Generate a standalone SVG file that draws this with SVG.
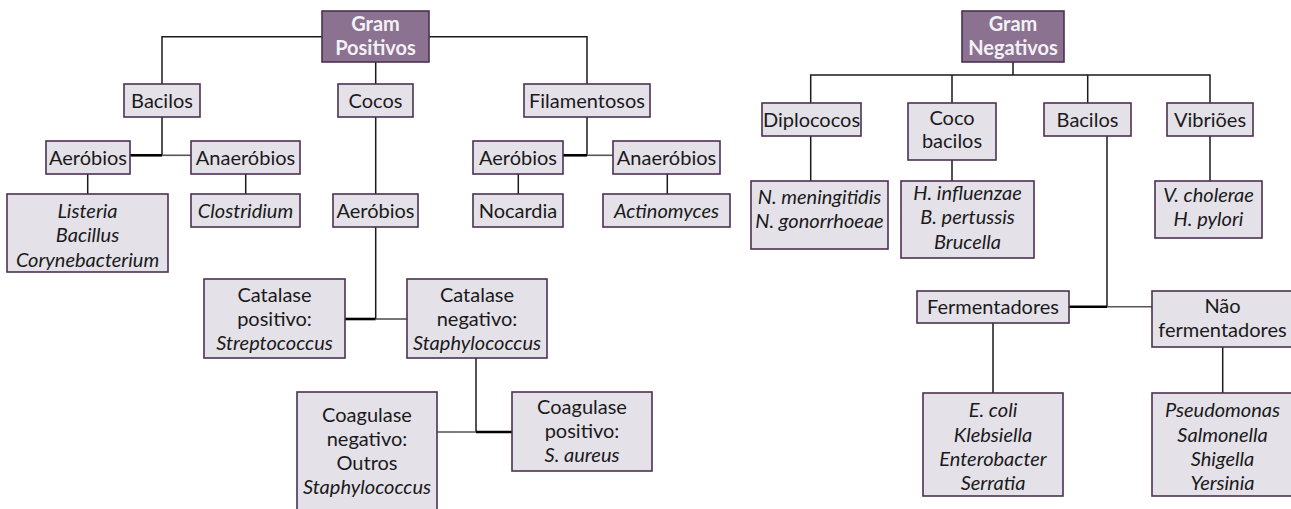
<svg xmlns="http://www.w3.org/2000/svg" width="1291" height="509" viewBox="0 0 1291 509">
  <style>
    .node rect { fill: #e5e1e9; stroke: #4b3150; stroke-width: 1.6; }
    .head rect { fill: #8a7290; stroke: #4b3150; stroke-width: 1.6; }
    text { font-family: Lato, "Open Sans", "Liberation Sans", sans-serif; font-size: 20px; fill: #1a1a1a; text-anchor: middle; }
    .head text { font-weight: bold; fill: #f4f1f6; }
    .i { font-style: italic; }
    .wire { fill: none; stroke: #1a1a1a; stroke-width: 1.5; }
    .wire.thick { stroke: #000; stroke-width: 2.6; }
    .wire.thin { stroke: #555; stroke-width: 1.6; }
  </style>
  <rect width="1291" height="509" fill="#ffffff"/>

  <!-- connectors -->
  <g id="connectors">
    <!-- Gram positivos -->
    <path class="wire" d="M162,84 V36.7 H322 M429,36.7 H587 V84 M375.7,62 V84"/>
    <path class="wire" d="M162,117 V155.3"/>
    <path class="wire thick" d="M130,155.3 H162"/>
    <path class="wire thin" d="M162,155.3 H191"/>
    <path class="wire" d="M87.7,174 V194 M245.7,174 V194"/>
    <path class="wire" d="M375.7,117 V194 M375.7,227 V319"/>
    <path class="wire thick" d="M345,319 H375.7"/>
    <path class="wire thin" d="M375.7,319 H407"/>
    <path class="wire" d="M587,117 V155.3"/>
    <path class="wire thick" d="M563,155.3 H587"/>
    <path class="wire thin" d="M587,155.3 H613"/>
    <path class="wire" d="M518.3,174 V194 M667.3,174 V194"/>
    <path class="wire" d="M476,358 V432"/>
    <path class="wire thin" d="M437,432 H476"/>
    <path class="wire thick" d="M476,432 H512"/>
    <!-- Gram negativos -->
    <path class="wire" d="M1013,62 V75 M810.7,103 V75 H1210 V103 M952,75 V103 M1087.7,75 V103"/>
    <path class="wire" d="M810.7,136 V181 M952,160 V181 M1210,136 V181"/>
    <path class="wire" d="M1107,136 V306.7"/>
    <path class="wire thick" d="M1069,306.7 H1107"/>
    <path class="wire thin" d="M1107,306.7 H1152"/>
    <path class="wire" d="M993,323 V393 M1222.7,347 V393"/>
  </g>

  <!-- Gram positivos tree -->
  <g id="gram-positivos" class="head">
    <rect x="322" y="11" width="107" height="51"/>
    <text x="375.5" y="31">Gram</text>
    <text x="375.5" y="55">Positivos</text>
  </g>
  <g id="bacilos-p" class="node">
    <rect x="124" y="84" width="76" height="33"/>
    <text x="162" y="107.5">Bacilos</text>
  </g>
  <g id="cocos" class="node">
    <rect x="338" y="84" width="75" height="33"/>
    <text x="375.5" y="107.5">Cocos</text>
  </g>
  <g id="filamentosos" class="node">
    <rect x="524" y="84" width="126" height="33"/>
    <text x="587" y="107.5">Filamentosos</text>
  </g>
  <g id="aerobios-b" class="node">
    <rect x="46" y="141" width="84" height="33"/>
    <text x="88" y="164.5">Aeróbios</text>
  </g>
  <g id="anaerobios-b" class="node">
    <rect x="191" y="141" width="109" height="33"/>
    <text x="245.5" y="164.5">Anaeróbios</text>
  </g>
  <g id="listeria" class="node">
    <rect x="7" y="194" width="161" height="78"/>
    <text class="i" x="87.5" y="217.5">Listeria</text>
    <text class="i" x="87.5" y="242">Bacillus</text>
    <text class="i" x="87.5" y="266.5">Corynebacterium</text>
  </g>
  <g id="clostridium" class="node">
    <rect x="191" y="194" width="109" height="33"/>
    <text class="i" x="245.5" y="217.5">Clostridium</text>
  </g>
  <g id="aerobios-c" class="node">
    <rect x="333" y="194" width="85" height="33"/>
    <text x="375.5" y="217.5">Aeróbios</text>
  </g>
  <g id="aerobios-f" class="node">
    <rect x="473" y="141" width="90" height="33"/>
    <text x="518" y="164.5">Aeróbios</text>
  </g>
  <g id="anaerobios-f" class="node">
    <rect x="613" y="141" width="107" height="33"/>
    <text x="666.5" y="164.5">Anaeróbios</text>
  </g>
  <g id="nocardia" class="node">
    <rect x="473" y="194" width="90" height="33"/>
    <text x="518" y="217.5">Nocardia</text>
  </g>
  <g id="actinomyces" class="node">
    <rect x="603" y="194" width="127" height="33"/>
    <text class="i" x="666.5" y="217.5">Actinomyces</text>
  </g>
  <g id="catalase-positivo" class="node">
    <rect x="204" y="279" width="141" height="79"/>
    <text x="274.5" y="302">Catalase</text>
    <text x="274.5" y="326">positivo:</text>
    <text class="i" x="274.5" y="350">Streptococcus</text>
  </g>
  <g id="catalase-negativo" class="node">
    <rect x="407" y="279" width="140" height="79"/>
    <text x="477" y="302">Catalase</text>
    <text x="477" y="326">negativo:</text>
    <text class="i" x="477" y="350">Staphylococcus</text>
  </g>
  <g id="coagulase-negativo" class="node">
    <rect x="297" y="392" width="140" height="125"/>
    <text x="367" y="422">Coagulase</text>
    <text x="367" y="446">negativo:</text>
    <text x="367" y="470">Outros</text>
    <text class="i" x="367" y="494">Staphylococcus</text>
  </g>
  <g id="coagulase-positivo" class="node">
    <rect x="512" y="392" width="140" height="79"/>
    <text x="582" y="414">Coagulase</text>
    <text x="582" y="438">positivo:</text>
    <text class="i" x="582" y="462">S. aureus</text>
  </g>

  <!-- Gram negativos tree -->
  <g id="gram-negativos" class="head">
    <rect x="962" y="11" width="102" height="51"/>
    <text x="1013" y="31">Gram</text>
    <text x="1013" y="55">Negativos</text>
  </g>
  <g id="diplococos" class="node">
    <rect x="762" y="103" width="99" height="33"/>
    <text x="811.5" y="126.5">Diplococos</text>
  </g>
  <g id="coco-bacilos" class="node">
    <rect x="908" y="103" width="88" height="57"/>
    <text x="952" y="125">Coco</text>
    <text x="952" y="148">bacilos</text>
  </g>
  <g id="bacilos-n" class="node">
    <rect x="1044" y="103" width="87" height="33"/>
    <text x="1087.5" y="126.5">Bacilos</text>
  </g>
  <g id="vibrioes" class="node">
    <rect x="1167" y="103" width="86" height="33"/>
    <text x="1210" y="126.5">Vibriões</text>
  </g>
  <g id="neisseria" class="node">
    <rect x="751" y="181" width="137" height="68"/>
    <text class="i" x="819.5" y="204">N. meningitidis</text>
    <text class="i" x="819.5" y="228">N. gonorrhoeae</text>
  </g>
  <g id="cocobacilos-especies" class="node">
    <rect x="901" y="181" width="133" height="77"/>
    <text class="i" x="967.5" y="199.5">H. influenzae</text>
    <text class="i" x="967.5" y="224">B. pertussis</text>
    <text class="i" x="967.5" y="248.5">Brucella</text>
  </g>
  <g id="vibrioes-especies" class="node">
    <rect x="1155" y="181" width="107" height="57"/>
    <text class="i" x="1208.5" y="202">V. cholerae</text>
    <text class="i" x="1208.5" y="226">H. pylori</text>
  </g>
  <g id="fermentadores" class="node">
    <rect x="917" y="291" width="152" height="32"/>
    <text x="993" y="314">Fermentadores</text>
  </g>
  <g id="nao-fermentadores" class="node">
    <rect x="1152" y="291" width="141" height="56"/>
    <text x="1222.5" y="313">Não</text>
    <text x="1222.5" y="337">fermentadores</text>
  </g>
  <g id="fermentadores-especies" class="node">
    <rect x="923" y="393" width="140" height="103"/>
    <text class="i" x="993" y="417">E. coli</text>
    <text class="i" x="993" y="441.5">Klebsiella</text>
    <text class="i" x="993" y="466">Enterobacter</text>
    <text class="i" x="993" y="490">Serratia</text>
  </g>
  <g id="nao-fermentadores-especies" class="node">
    <rect x="1152" y="393" width="141" height="103"/>
    <text class="i" x="1222.5" y="417">Pseudomonas</text>
    <text class="i" x="1222.5" y="441.5">Salmonella</text>
    <text class="i" x="1222.5" y="466">Shigella</text>
    <text class="i" x="1222.5" y="490">Yersinia</text>
  </g>
</svg>
